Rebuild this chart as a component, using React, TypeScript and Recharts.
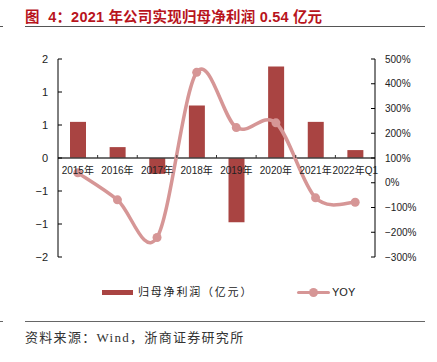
import React from 'react';
import { ComposedChart, Bar, Line, XAxis, YAxis, ReferenceLine } from 'recharts';

const categories = ['2015年', '2016年', '2017年', '2018年', '2019年', '2020年', '2021年', '2022年Q1'];
const netProfit = [0.73, 0.22, -0.32, 1.06, -1.3, 1.85, 0.73, 0.16];
const yoy = [40, -69, -221, 446, 223, 242, -61, -79];
const leftTicks = [2, 4 / 3, 2 / 3, 0, -2 / 3, -4 / 3, -2];
const leftTickLabels = ['2', '1', '1', '0', '−1', '−1', '−2'];
const rightTicks = [500, 400, 300, 200, 100, 0, -100, -200, -300];
const rightTickLabels = ['500%', '400%', '300%', '200%', '100%', '0%', '−100%', '−200%', '−300%'];

const data = categories.map((name, i) => ({ name, profit: netProfit[i], yoy: yoy[i] }));

const W = 437;
const H = 290;
const PLOT_TOP = 59;
const PLOT_BOTTOM = 257;
const LEFT = 58;
const RIGHT = 375;
const ZERO_Y = PLOT_TOP + (PLOT_BOTTOM - PLOT_TOP) * 0.5;
const BAND = (RIGHT - LEFT) / categories.length;

const BAR_COLOR = '#A94442';
const LINE_COLOR = '#D69696';
const TEXT_FONT = '"Liberation Sans", "Noto Sans CJK SC", sans-serif';

// Excel-like smooth curve (Catmull-Rom style cardinal spline)
const smoothCurve: any = (context: any) => {
  let pts: [number, number][] = [];
  return {
    areaStart() {},
    areaEnd() {},
    lineStart() {
      pts = [];
    },
    point(x: number, y: number) {
      pts.push([+x, +y]);
    },
    lineEnd() {
      if (!pts.length) return;
      context.moveTo(pts[0][0], pts[0][1]);
      const k = 1 / 6;
      for (let i = 0; i < pts.length - 1; i++) {
        const p0 = pts[i - 1] || pts[i];
        const p1 = pts[i];
        const p2 = pts[i + 1];
        const p3 = pts[i + 2] || p2;
        context.bezierCurveTo(
          p1[0] + k * (p2[0] - p0[0]),
          p1[1] + k * (p2[1] - p0[1]),
          p2[0] - k * (p3[0] - p1[0]),
          p2[1] - k * (p3[1] - p1[1]),
          p2[0],
          p2[1]
        );
      }
    },
  };
};

const LeftTick = (props: any) => {
  const { y, index } = props;
  return (
    <g>
      <line x1={LEFT} x2={LEFT + 4} y1={y} y2={y} stroke="#000" strokeWidth={1} />
      <text x={LEFT - 10} y={y} dy="0.35em" textAnchor="end" fontSize={11} fill="#222" fontFamily={TEXT_FONT}>
        {leftTickLabels[index]}
      </text>
    </g>
  );
};

const RightTick = (props: any) => {
  const { y, index } = props;
  return (
    <g>
      <line x1={RIGHT - 4} x2={RIGHT} y1={y} y2={y} stroke="#000" strokeWidth={1} />
      <text x={RIGHT + 10} y={y} dy="0.35em" textAnchor="start" fontSize={10} fill="#222" fontFamily={TEXT_FONT}>
        {rightTickLabels[index]}
      </text>
    </g>
  );
};

const CatTick = (props: any) => {
  const { x, index } = props;
  return (
    <g>
      {index < categories.length - 1 && (
        <line x1={x + BAND / 2} x2={x + BAND / 2} y1={ZERO_Y - 3} y2={ZERO_Y} stroke="#333" strokeWidth={1} />
      )}
      <text x={x} y={ZERO_Y + 12} dy="0.35em" textAnchor="middle" fontSize={10} fill="#222" fontFamily={TEXT_FONT}>
        {categories[index]}
      </text>
    </g>
  );
};

export default function App() {
  return (
    <div
      style={{
        position: 'absolute',
        left: 0,
        top: 0,
        width: W,
        height: 362,
        background: '#fff',
        overflow: 'hidden',
      }}
    >
      <div
        style={{
          position: 'absolute',
          left: 25,
          top: 5,
          fontSize: 14.5,
          letterSpacing: 0.2,
          fontWeight: 'bold',
          color: '#B8141C',
          fontFamily: TEXT_FONT,
          whiteSpace: 'nowrap',
        }}
      >
        图&nbsp;&nbsp;4：2021 年公司实现归母净利润 0.54 亿元
      </div>
      <div style={{ position: 'absolute', left: 25, top: 26, width: 400, height: 1, background: '#555' }} />
      <div style={{ position: 'absolute', left: 0, top: 26, width: 3, height: 1, background: '#555' }} />

      <div style={{ position: 'absolute', left: 0, top: 0 }}>
        <ComposedChart width={W} height={H} data={data} margin={{ top: PLOT_TOP, right: 0, bottom: H - PLOT_BOTTOM - 1, left: 0 }}>
          <XAxis
            dataKey="name"
            xAxisId="x"
            height={1}
            axisLine={false}
            tickLine={false}
            interval={0}
            tick={<CatTick />}
          />
          <YAxis
            yAxisId="left"
            orientation="left"
            width={LEFT}
            domain={[-2, 2]}
            ticks={leftTicks}
            interval={0}
            tickLine={false}
            tickSize={0}
            axisLine={{ stroke: '#000', strokeWidth: 1 }}
            tick={<LeftTick />}
          />
          <YAxis
            yAxisId="right"
            orientation="right"
            width={W - RIGHT}
            domain={[-300, 500]}
            ticks={rightTicks}
            interval={0}
            tickLine={false}
            tickSize={0}
            axisLine={{ stroke: '#000', strokeWidth: 1 }}
            tick={<RightTick />}
          />
          <Bar xAxisId="x" yAxisId="left" dataKey="profit" fill={BAR_COLOR} barSize={16} isAnimationActive={false} />
          <ReferenceLine xAxisId="x" yAxisId="left" y={0} stroke="#404040" strokeWidth={1.5} />
          <Line
            xAxisId="x"
            yAxisId="right"
            dataKey="yoy"
            type={smoothCurve}
            stroke={LINE_COLOR}
            strokeWidth={3.5}
            dot={{ r: 4.5, fill: LINE_COLOR, stroke: 'none' }}
            activeDot={false}
            isAnimationActive={false}
          />
        </ComposedChart>
      </div>

      <div
        style={{
          position: 'absolute',
          left: 0,
          top: 284,
          width: W,
          height: 16,
          fontFamily: TEXT_FONT,
          fontSize: 11,
          color: '#222',
        }}
      >
        <div style={{ position: 'absolute', left: 102, top: 6, width: 31, height: 5, background: BAR_COLOR }} />
        <div style={{ position: 'absolute', left: 138, top: 0, letterSpacing: 1.8, whiteSpace: 'nowrap', lineHeight: '16px' }}>
          归母净利润（亿元）
        </div>
        <div style={{ position: 'absolute', left: 297, top: 7, width: 33, height: 3, background: LINE_COLOR, borderRadius: 2 }} />
        <div style={{ position: 'absolute', left: 309, top: 4, width: 9, height: 9, background: LINE_COLOR, borderRadius: '50%' }} />
        <div style={{ position: 'absolute', left: 332, top: 0, whiteSpace: 'nowrap', lineHeight: '16px' }}>YOY</div>
      </div>

      <div style={{ position: 'absolute', left: 25, top: 321, width: 400, height: 1, background: '#666' }} />
      <div style={{ position: 'absolute', left: 0, top: 321, width: 3, height: 1, background: '#666' }} />
      <div
        style={{
          position: 'absolute',
          left: 25,
          top: 327,
          fontSize: 13,
          color: '#333',
          letterSpacing: 1.3,
          fontFamily: '"Liberation Serif", "Noto Sans CJK SC", serif',
          whiteSpace: 'nowrap',
        }}
      >
        资料来源：Wind，浙商证券研究所
      </div>
    </div>
  );
}
